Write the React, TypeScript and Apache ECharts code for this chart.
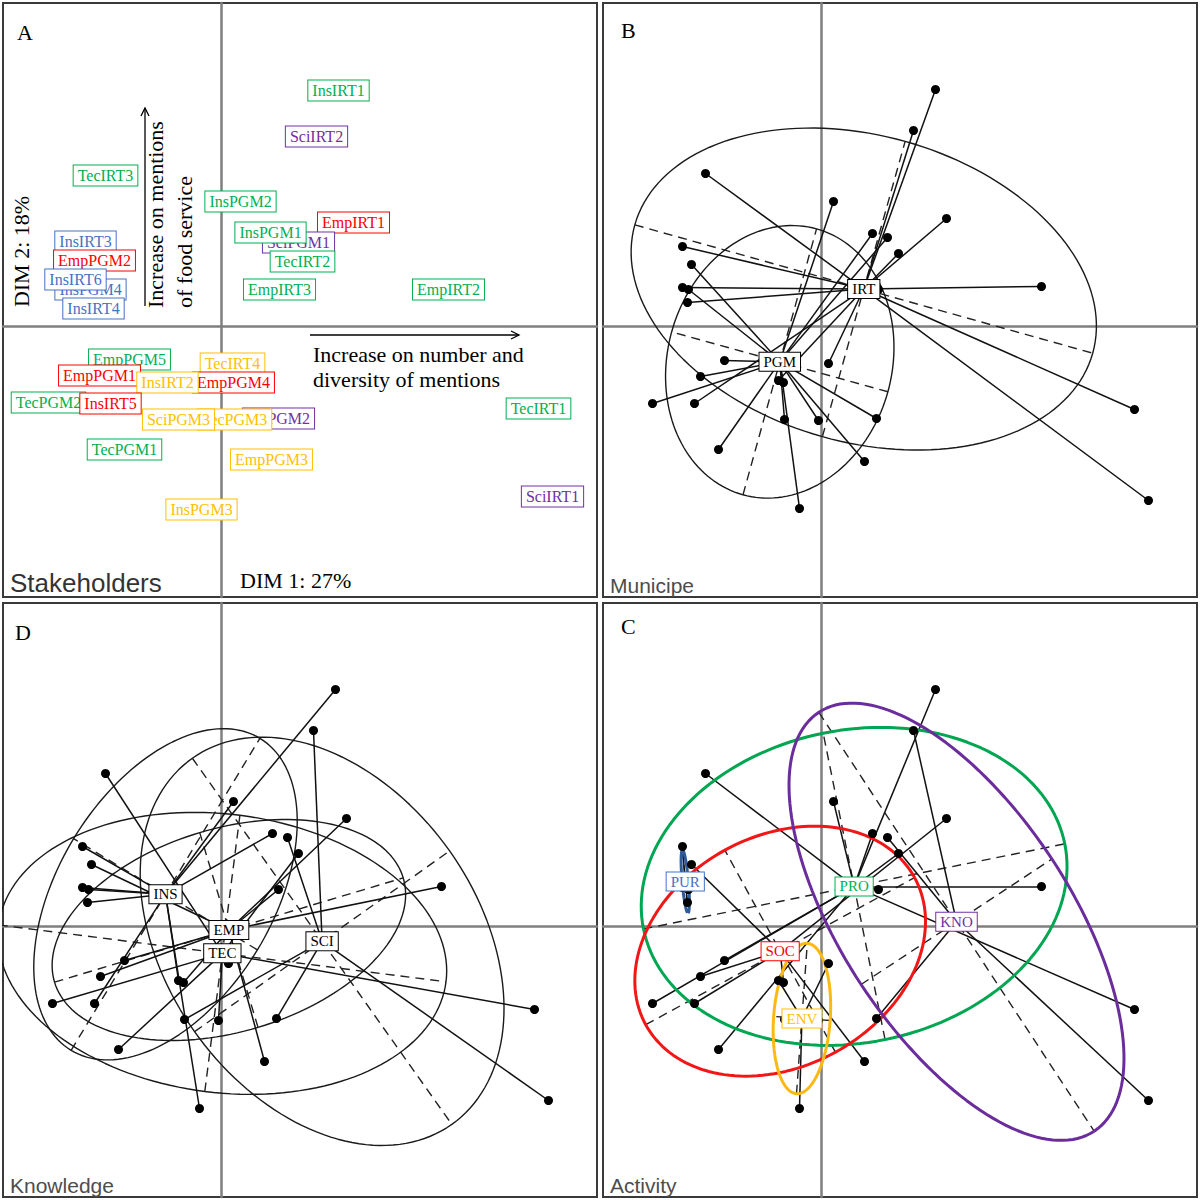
import React, { useEffect, useRef } from "react";
import * as echarts from "echarts";

// ---------------- data ----------------
const names = [
  "InsIRT1", "SciIRT2", "TecIRT3", "InsPGM2", "EmpIRT1", "SciPGM1", "InsPGM1", "TecIRT2", "EmpIRT3", "EmpIRT2",
  "InsIRT3", "EmpPGM2", "InsPGM4", "InsIRT6", "InsIRT4", "EmpPGM5", "EmpPGM1", "TecIRT4", "EmpPGM4", "InsIRT2",
  "TecPGM2", "InsIRT5", "SciPGM2", "TecPGM3", "SciPGM3", "TecIRT1", "TecPGM1", "EmpPGM3", "InsPGM3", "SciIRT1",
];
const dim1 = [
  1.145, 0.925, -1.155, 0.125, 1.255, 0.665, 0.515, 0.775, 0.575, 2.205,
  -1.385, -1.295, -1.325, -1.385, -1.335, -0.965, -1.205, 0.075, -0.375, -0.425,
  -1.685, -1.265, 0.555, -0.025, -0.365, 3.135, -1.025, 0.435, -0.215, 3.275,
];
const dim2 = [
  2.365, 1.955, 1.525, 1.245, 1.075, 0.885, 0.925, 0.725, 0.365, 0.395,
  0.795, 0.615, 0.365, 0.385, 0.235, -0.345, -0.505, -0.375, -0.565, -0.545,
  -0.775, -0.775, -0.925, -0.945, -0.935, -0.835, -1.235, -1.355, -1.825, -1.745,
];
// activity class used for panel C
const activity = [
  "PRO", "KNO", "PRO", "PRO", "SOC", "KNO", "PRO", "PRO", "PRO", "PRO",
  "PUR", "SOC", "PUR", "PUR", "PUR", "PRO", "SOC", "ENV", "SOC", "ENV",
  "PRO", "SOC", "KNO", "ENV", "ENV", "PRO", "PRO", "SOC", "ENV", "KNO",
];
// colour class of the labels in panel A
const labelClass = [
  "PRO", "KNO", "PRO", "PRO", "SOC", "KNO", "PRO", "PRO", "PRO", "PRO",
  "PUR", "SOC", "PUR", "PUR", "PUR", "PRO", "SOC", "ENV", "SOC", "ENV",
  "PRO", "SOC", "KNO", "ENV", "ENV", "PRO", "PRO", "ENV", "ENV", "KNO",
];
const municipe = names.map((n) => (n.indexOf("IRT") >= 0 ? "IRT" : "PGM"));
const knowledge = names.map((n) => n.slice(0, 3).toUpperCase());

const municipeGroups = ["IRT", "PGM"];
const knowledgeGroups = ["INS", "EMP", "TEC", "SCI"];
const activityGroups = ["PRO", "SOC", "KNO", "ENV", "PUR"];
const activityLabelOrder = ["PUR", "PRO", "KNO", "SOC", "ENV"];

const dim1Label = "DIM 1: 27%";
const dim2Label = "DIM 2: 18%";

// ---------------- layout / style ----------------
const labelNudgeA: Record<string, [number, number]> = {
  InsIRT1: [3, 1], SciIRT2: [3, 6], TecIRT3: [0, 2], InsPGM2: [7, 0], EmpIRT1: [7, 4],
  SciPGM1: [11, 5], InsPGM1: [-2, -1], TecIRT2: [4, 8], EmpIRT3: [1, 0], EmpIRT2: [7, 3],
  InsIRT3: [3, -5], EmpPGM2: [3, -4], InsPGM4: [2, 0], InsIRT6: [-7, -8], InsIRT4: [6, 6],
  EmpPGM5: [5, -1], EmpPGM1: [-1, -1], TecIRT4: [4, 0], EmpPGM4: [50, 0], InsIRT2: [-11, 2],
  TecPGM2: [-4, -1], InsIRT5: [16, 0], SciPGM2: [2, 0], TecPGM3: [16, -1], SciPGM3: [-6, 0],
  TecIRT1: [4, -1], TecPGM1: [6, 0], EmpPGM3: [7, -2], InsPGM3: [2, 1], SciIRT1: [4, -4],
};
const textColors: Record<string, string> = {
  PRO: "#00B050", KNO: "#7030A0", SOC: "#FF0000", ENV: "#FFC000", PUR: "#4472C4",
};
const ellColors: Record<string, string> = {
  PRO: "#00A651", KNO: "#6B2C9C", SOC: "#F21616", ENV: "#FDB913", PUR: "#2F5B96",
};
const SERIF = "'Liberation Serif', 'Times New Roman', serif";
const SANS = "'Liberation Sans', Arial, Helvetica, sans-serif";
const X_MIN = -2.18, X_MAX = 3.76, Y_MIN = -2.71, Y_MAX = 3.23;
const grids = [
  { left: 3, top: 3 },     // A
  { left: 603, top: 3 },   // B
  { left: 3, top: 603 },   // D
  { left: 603, top: 603 }, // C
];

function groupStats(idx: number[]) {
  const n = idx.length;
  let mx = 0, my = 0;
  idx.forEach((i) => { mx += dim1[i]; my += dim2[i]; });
  mx /= n; my /= n;
  let sxx = 0, syy = 0, sxy = 0;
  idx.forEach((i) => {
    const dx = dim1[i] - mx, dy = dim2[i] - my;
    sxx += dx * dx; syy += dy * dy; sxy += dx * dy;
  });
  sxx /= n; syy /= n; sxy /= n;
  const tr = (sxx + syy) / 2;
  const d = Math.sqrt(((sxx - syy) / 2) ** 2 + sxy * sxy);
  const l1 = tr + d, l2 = Math.max(tr - d, 0);
  const th = 0.5 * Math.atan2(2 * sxy, sxx - syy);
  return { mx, my, a: 1.5 * Math.sqrt(l1), b: 1.5 * Math.sqrt(l2), th };
}

function panelSeries(
  gi: number, groupOf: string[], groups: string[], labelOrder: string[], colored: boolean
) {
  const series: any[] = [];
  const stats: Record<string, any> = {};
  groups.forEach((g) => {
    const idx = groupOf.map((v, i) => (v === g ? i : -1)).filter((i) => i >= 0);
    stats[g] = groupStats(idx);
  });
  groups.forEach((g) => {
    const s = stats[g];
    const c = Math.cos(s.th), sn = Math.sin(s.th);
    const pts: number[][] = [];
    const N = 160;
    for (let k = 0; k <= N; k++) {
      const t = (2 * Math.PI * k) / N;
      pts.push([
        s.mx + s.a * Math.cos(t) * c - s.b * Math.sin(t) * sn,
        s.my + s.a * Math.cos(t) * sn + s.b * Math.sin(t) * c,
      ]);
    }
    series.push({
      type: "line", xAxisIndex: gi, yAxisIndex: gi, data: pts, symbol: "none", silent: true,
      lineStyle: { color: colored ? ellColors[g] : "#1a1a1a", width: colored ? 3 : 1.4, opacity: 1 },
      z: colored ? 4 : 2,
    });
    series.push({
      type: "lines", coordinateSystem: "cartesian2d", xAxisIndex: gi, yAxisIndex: gi, silent: true,
      data: [
        { coords: [[s.mx - s.a * c, s.my - s.a * sn], [s.mx + s.a * c, s.my + s.a * sn]] },
        { coords: [[s.mx + s.b * sn, s.my - s.b * c], [s.mx - s.b * sn, s.my + s.b * c]] },
      ],
      lineStyle: { color: "#222", width: 1.4, type: [9, 6], opacity: 1 },
      z: 2,
    });
  });
  series.push({
    type: "lines", coordinateSystem: "cartesian2d", xAxisIndex: gi, yAxisIndex: gi, silent: true,
    data: names.map((_, i) => ({
      coords: [[dim1[i], dim2[i]], [stats[groupOf[i]].mx, stats[groupOf[i]].my]],
    })),
    lineStyle: { color: "#111", width: 1.5, opacity: 1 },
    z: 3,
  });
  series.push({
    type: "scatter", xAxisIndex: gi, yAxisIndex: gi, silent: true, symbol: "circle", symbolSize: 9,
    itemStyle: { color: "#000", opacity: 1 },
    data: names.map((_, i) => [dim1[i], dim2[i]]),
    z: 5,
  });
  series.push({
    type: "scatter", xAxisIndex: gi, yAxisIndex: gi, silent: true, symbolSize: 1,
    itemStyle: { color: "rgba(0,0,0,0)", opacity: 1 },
    data: labelOrder.map((g) => ({
      value: [stats[g].mx, stats[g].my], name: g,
      label: colored ? { color: textColors[g], borderColor: textColors[g] } : {},
    })),
    label: {
      show: true, position: "inside", formatter: "{b}", fontFamily: SERIF, fontSize: 15,
      lineHeight: 15, color: "#000", backgroundColor: "#fff", borderColor: "#000",
      borderWidth: 1, padding: [2, 4, 1, 4], opacity: 1,
    },
    z: 6,
  });
  return series;
}

function buildOption() {
  const series: any[] = [];
  // Panel A: labels
  series.push({
    type: "scatter", xAxisIndex: 0, yAxisIndex: 0, silent: true, symbolSize: 1,
    itemStyle: { color: "rgba(0,0,0,0)", opacity: 1 },
    data: names.map((n, i) => ({
      value: [dim1[i], dim2[i]], name: n,
      label: {
        color: textColors[labelClass[i]], borderColor: textColors[labelClass[i]],
        offset: labelNudgeA[n] || [0, 0],
      },
    })),
    label: {
      show: true, position: "inside", formatter: "{b}", fontFamily: SERIF, fontSize: 16,
      lineHeight: 16, backgroundColor: "#fff", borderWidth: 1, padding: [2, 4, 2, 4], opacity: 1,
    },
    z: 5,
  });
  series.push(...panelSeries(1, municipe, municipeGroups, municipeGroups, false));
  series.push(...panelSeries(2, knowledge, knowledgeGroups, knowledgeGroups, false));
  series.push(...panelSeries(3, activity, activityGroups, activityLabelOrder, true));

  const txt = (text: string, x: number, y: number, size: number, family: string, fill = "#000", extra: any = {}) => ({
    type: "text", x, y, z: 100, ...extra,
    style: {
      text, fontSize: size, fontFamily: family, fill,
      align: extra.align || "left", textAlign: extra.align || "left",
      verticalAlign: "middle", textVerticalAlign: "middle",
    },
  });

  const graphic: any[] = [
    txt("A", 17, 32.5, 22, SERIF),
    txt("B", 621, 30.5, 22, SERIF),
    txt("D", 15, 632.5, 22, SERIF),
    txt("C", 621, 626.5, 22, SERIF),
    txt("Stakeholders", 10, 583, 26, SANS, "#333"),
    txt("Municipe", 610, 585, 21, SANS, "#4d4d4d"),
    txt("Knowledge", 10, 1185, 21, SANS, "#4d4d4d"),
    txt("Activity", 610, 1185, 21, SANS, "#4d4d4d"),
    txt(dim1Label, 240, 580.5, 22, SERIF),
    txt("Increase on number and", 313, 354, 22, SERIF),
    txt("diversity of mentions", 313, 379, 22, SERIF),
    { ...txt(dim2Label, 21, 251.5, 22, SERIF, "#000", { align: "center" }), rotation: Math.PI / 2 },
    { ...txt("Increase on mentions", 155, 308, 22, SERIF), rotation: Math.PI / 2 },
    { ...txt("of food service", 184, 308, 22, SERIF), rotation: Math.PI / 2 },
    { type: "line", z: 100, shape: { x1: 310, y1: 335, x2: 519, y2: 335 }, style: { stroke: "#000", lineWidth: 1.3 } },
    { type: "polyline", z: 100, shape: { points: [[511, 331], [519, 335], [511, 339]] }, style: { stroke: "#000", lineWidth: 1.3, fill: "none" } },
    { type: "line", z: 100, shape: { x1: 145, y1: 306, x2: 145, y2: 108 }, style: { stroke: "#000", lineWidth: 1.3 } },
    { type: "polyline", z: 100, shape: { points: [[141, 116], [145, 108], [149, 116]] }, style: { stroke: "#000", lineWidth: 1.3, fill: "none" } },
  ];

  return {
    animation: false,
    backgroundColor: "#fff",
    grid: grids.map((g) => ({
      left: g.left, top: g.top, width: 594, height: 594, show: true,
      borderColor: "#3a3a3a", borderWidth: 2, backgroundColor: "#fff",
    })),
    xAxis: grids.map((_, i) => ({
      type: "value", gridIndex: i, min: X_MIN, max: X_MAX,
      axisLabel: { show: false }, axisTick: { show: false }, splitLine: { show: false },
      axisLine: { show: true, onZero: true, lineStyle: { color: "#7f7f7f", width: 2.5 } },
    })),
    yAxis: grids.map((_, i) => ({
      type: "value", gridIndex: i, min: Y_MIN, max: Y_MAX,
      axisLabel: { show: false }, axisTick: { show: false }, splitLine: { show: false },
      axisLine: { show: true, onZero: true, lineStyle: { color: "#7f7f7f", width: 2.5 } },
    })),
    series,
    graphic,
  };
}

export default function App() {
  const ref = useRef<HTMLDivElement>(null);
  useEffect(() => {
    const chart = echarts.init(ref.current as HTMLDivElement, undefined, { renderer: "svg" });
    chart.setOption(buildOption() as any);
    return () => chart.dispose();
  }, []);
  return (
    <div
      ref={ref}
      style={{ position: "absolute", left: 0, top: 0, width: 1200, height: 1200, background: "#fff" }}
    />
  );
}
